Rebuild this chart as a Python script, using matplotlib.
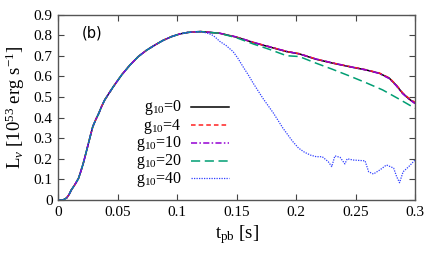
import numpy as np
import matplotlib
matplotlib.use("Agg")
import matplotlib.pyplot as plt
from matplotlib.lines import Line2D

plt.rcParams["font.family"] = ["Liberation Serif", "DejaVu Serif"]
plt.rcParams["mathtext.fontset"] = "custom"
plt.rcParams["mathtext.rm"] = "Liberation Serif"
plt.rcParams["mathtext.it"] = "Liberation Serif:italic"

# common rise (all models overlap here)
t_rise = [0, 0.004, 0.007, 0.009, 0.011, 0.014, 0.017, 0.019, 0.021, 0.023,
          0.025, 0.027, 0.029, 0.0315, 0.034, 0.0365, 0.039, 0.042, 0.0463,
          0.0533, 0.0603, 0.0673, 0.0743, 0.0813, 0.0883, 0.0954, 0.1024,
          0.109, 0.115, 0.12]
L_rise = [0, 0, 0.01, 0.026, 0.049, 0.075, 0.105, 0.14, 0.178, 0.222,
          0.267, 0.312, 0.356, 0.39, 0.42, 0.455, 0.485, 0.512, 0.55,
          0.607, 0.655, 0.696, 0.727, 0.752, 0.775, 0.793, 0.806,
          0.813, 0.816, 0.817]

# late part of the g10=0,4,10 and g10=20 runs
t_tail = [0.1357, 0.15, 0.164, 0.178, 0.192, 0.2027, 0.2167, 0.2307, 0.2448,
          0.2588, 0.27, 0.2784, 0.284, 0.2896, 0.2952, 0.3]
L_g0_tail = [0.809, 0.79, 0.764, 0.742, 0.72, 0.709, 0.683, 0.664, 0.647,
             0.631, 0.615, 0.591, 0.558, 0.518, 0.489, 0.47]
L_g4_tail = [0.809, 0.79, 0.765, 0.743, 0.721, 0.71, 0.684, 0.665, 0.648,
             0.632, 0.616, 0.592, 0.56, 0.52, 0.492, 0.474]
L_g10_tail = [0.809, 0.791, 0.765, 0.743, 0.721, 0.709, 0.684, 0.665, 0.647,
              0.631, 0.614, 0.589, 0.556, 0.516, 0.488, 0.468]
t_g20_tail = [0.1357, 0.15, 0.164, 0.178, 0.192, 0.2027, 0.2167, 0.2307,
              0.2448, 0.2588, 0.2728, 0.2868, 0.3]
L_g20_tail = [0.809, 0.787, 0.757, 0.73, 0.70, 0.696, 0.664, 0.634, 0.602,
              0.569, 0.534, 0.489, 0.445]

# g10=40 collapses early and becomes noisy
t_g40_tail = [0.125, 0.129, 0.132, 0.1357, 0.141, 0.147, 0.151, 0.155, 0.16,
              0.164, 0.172, 0.181, 0.189, 0.197, 0.202, 0.207, 0.212, 0.217,
              0.222, 0.227, 0.23, 0.2326, 0.237, 0.241, 0.243, 0.248, 0.258,
              0.261, 0.265, 0.2705, 0.276, 0.282, 0.2846, 0.287, 0.29,
              0.2944, 0.3]
L_g40_tail = [0.81, 0.802, 0.79, 0.77, 0.75, 0.72, 0.688, 0.65, 0.605,
              0.566, 0.494, 0.421, 0.348, 0.285, 0.252, 0.232, 0.218, 0.21,
              0.21, 0.186, 0.162, 0.214, 0.207, 0.175, 0.2, 0.194, 0.19,
              0.137, 0.126, 0.146, 0.17, 0.155, 0.113, 0.084, 0.137,
              0.16, 0.194]

labels = ["g$_{10}$=0", "g$_{10}$=4", "g$_{10}$=10", "g$_{10}$=20", "g$_{10}$=40"]

series = [
    (t_rise + t_tail, L_rise + L_g0_tail),
    (t_rise + t_tail, L_rise + L_g4_tail),
    (t_rise + t_tail, L_rise + L_g10_tail),
    (t_rise + t_g20_tail, L_rise + L_g20_tail),
    (t_rise + t_g40_tail, L_rise + L_g40_tail),
]
styles = [
    dict(color="black", ls="-", lw=1.1),
    dict(color="#ff2020", ls=(0, (3, 2)), lw=1.1),
    dict(color="#9400d3", ls=(0, (4, 1.5, 1, 1.5)), lw=1.1),
    dict(color="#009e73", ls=(0, (6, 3)), lw=1.1),
    dict(color="#3040ff", ls=(0, (1, 1)), lw=0.9),
]

W, H = 436, 262
fig = plt.figure(figsize=(W / 100, H / 100), dpi=100)
ax = fig.add_axes([58.3 / W, 1 - 200 / H, (415 - 58.3) / W, (200 - 14.5) / H])

for (t, L), st in zip(series, styles):
    ax.plot(t, L, **st)

ax.set_xlim(0, 0.3)
ax.set_ylim(0, 0.9)
ax.set_xticks([0, 0.05, 0.1, 0.15, 0.2, 0.25, 0.3])
ax.set_xticklabels(["0", "0.05", "0.1", "0.15", "0.2", "0.25", "0.3"])
ax.set_yticks(np.arange(0, 0.91, 0.1))
ax.set_yticklabels(["0", "0.1", "0.2", "0.3", "0.4", "0.5", "0.6", "0.7", "0.8", "0.9"])
ax.tick_params(direction="in", top=True, right=True, length=4, width=0.8,
               color="#444444", labelsize=11, pad=4)
for s in ax.spines.values():
    s.set_color("#555555")
    s.set_linewidth(1.0)

ax.set_xlabel("t$_{\\mathrm{pb}}$ [s]", fontsize=13.5, labelpad=3)
ax.set_ylabel("L$_{\\nu}$ [10$^{53}$ erg s$^{-1}$]", fontsize=13.5, labelpad=5)

ax.text(82 / W, 1 - 33 / H, "(b)", transform=fig.transFigure, fontsize=10.5,
        family="DejaVu Sans", va="center", ha="left")

# key: right-aligned labels with the line sample to their right
row_y = [106.7, 125, 142.7, 160.7, 178.3]
for y, st, lab in zip(row_y, styles, labels):
    fig.text(182 / W, 1 - (y + 1) / H, lab, fontsize=11.5, ha="right", va="center")
    fig.add_artist(Line2D([191 / W, 229 / W], [1 - y / H, 1 - y / H],
                          transform=fig.transFigure, **st))

fig.savefig("out.png", dpi=100)
